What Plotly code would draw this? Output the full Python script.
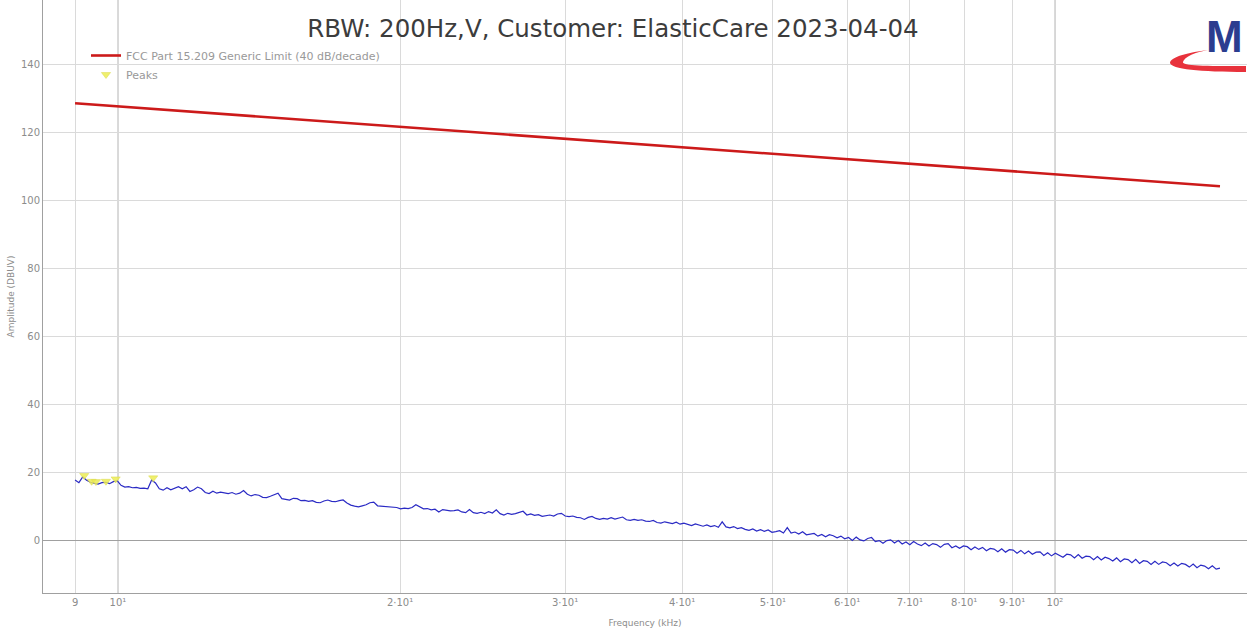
import numpy as np
import plotly.graph_objects as go

# Sweep definition (kHz); the trace is sampled on a logarithmic grid
FREQ_START_KHZ = 9.0
FREQ_STOP_KHZ = 150.0

# Measured amplitude, dBuV, one value per sweep point
amplitude_dbuv = [
    17.9, 17.1, 18.8, 17.8, 17.2, 16.9, 16.7, 17.1, 17.2, 16.8,
    17.4, 17.7, 16.3, 15.8, 15.9, 15.6, 15.7, 15.4, 15.5, 15.3,
    17.9, 17.0, 15.3, 14.9, 15.6, 15.0, 15.4, 15.9, 15.3, 15.9,
    14.5, 15.0, 15.8, 15.3, 14.2, 13.9, 14.6, 14.0, 14.3, 14.1,
    13.9, 14.2, 13.7, 14.0, 14.8, 13.7, 13.2, 13.6, 13.4, 12.8,
    12.7, 13.1, 13.6, 14.0, 12.4, 12.2, 12.0, 12.5, 12.4, 11.8,
    11.9, 11.6, 11.8, 11.3, 11.2, 11.7, 12.0, 11.6, 11.5, 11.8,
    12.0, 11.1, 10.5, 10.2, 10.0, 10.3, 10.6, 11.2, 11.4, 10.3,
    10.2, 10.0, 9.9, 9.7, 9.8, 9.4, 9.6, 9.5, 9.8, 10.6,
    9.9, 9.4, 9.5, 9.1, 9.3, 8.5, 9.2, 9.0, 8.8, 8.9,
    9.1, 8.5, 8.3, 9.2, 8.3, 8.1, 8.4, 8.0, 8.6, 8.2,
    9.1, 8.0, 7.6, 8.1, 7.8, 8.0, 8.3, 8.7, 7.6, 7.9,
    7.5, 7.7, 7.2, 7.4, 7.6, 7.3, 7.9, 8.1, 7.3, 7.1,
    7.3, 6.9, 6.8, 6.3, 6.9, 7.2, 6.6, 6.3, 6.6, 6.4,
    6.8, 6.4, 6.6, 7.0, 6.2, 6.0, 6.3, 6.0, 6.2, 5.8,
    5.7, 6.0, 5.4, 5.2, 5.6, 5.4, 5.1, 5.5, 4.9, 5.2,
    4.8, 4.5, 5.0, 4.6, 4.3, 4.7, 4.2, 4.5, 4.0, 5.6,
    4.1, 3.8, 4.2, 3.6, 3.9, 3.4, 3.1, 3.5, 2.9, 3.3,
    2.8, 3.2, 2.5, 2.7, 3.0, 2.3, 3.9, 2.3, 2.6, 2.0,
    2.7, 1.8, 2.1, 2.2, 1.4, 1.9, 1.2, 1.8, 1.5, 0.9,
    1.4, 0.6, 1.0, 0.1, 1.1, 0.3, 0.0, 0.7, 1.0, -0.2,
    0.1, -0.7, 0.1, 0.3, -0.6, 0.1, -0.9, -0.3, -1.1, -0.2,
    -0.9, -1.4, -0.6, -1.5, -0.8, -1.1, -1.9, -1.0, -0.8, -2.0,
    -1.5, -2.2, -1.5, -1.7, -2.6, -1.8, -2.5, -1.9, -2.9, -2.2,
    -2.4, -3.2, -2.3, -3.3, -2.6, -2.7, -3.6, -2.8, -3.8, -3.0,
    -3.9, -3.3, -3.2, -4.3, -3.5, -4.4, -3.6, -4.2, -4.8, -3.9,
    -4.1, -5.0, -4.0, -5.1, -4.5, -4.6, -5.5, -4.6, -5.6, -4.8,
    -5.2, -5.9, -5.0, -6.1, -5.3, -5.5, -6.4, -5.4, -6.6, -5.8,
    -6.0, -6.9, -6.0, -6.9, -6.2, -6.4, -7.3, -6.5, -7.4, -6.6,
    -6.9, -7.7, -6.8, -7.9, -7.1, -7.4, -8.2, -7.3, -8.3, -8.0,
]

# FCC Part 15.209 limit extrapolated to 3 m (40 dB/decade)
limit_freq_khz = [9.0, 150.0]
limit_dbuv = [128.5, 104.1]

# Detected peaks
peak_freq_khz = [9.205, 9.374, 9.474, 9.709, 9.944, 10.905]
peak_dbuv = [19.2, 17.5, 17.4, 17.5, 18.2, 18.5]

x_tick_vals = [9, 10, 20, 30, 40, 50, 60, 70, 80, 90, 100]
x_tick_text = ["9", "10¹", "2·10¹", "3·10¹", "4·10¹", "5·10¹",
               "6·10¹", "7·10¹", "8·10¹", "9·10¹", "10²"]
decade_lines_khz = [10, 100]
y_tick_vals = [0, 20, 40, 60, 80, 100, 120, 140]

freq_khz = np.geomspace(FREQ_START_KHZ, FREQ_STOP_KHZ, len(amplitude_dbuv))

# Canvas geometry
W, H = 1252, 630
ML, MR, MT, MB = 43, 5, 0, 37
PW, PH = W - ML - MR, H - MT - MB


def to_paper(px, py):
    return f"{(px - ML) / PW:.5f},{(PH + MT - py) / PH:.5f}"


grey_text = "#8c8c8c"

fig = go.Figure()

fig.add_trace(go.Scatter(
    x=freq_khz, y=amplitude_dbuv, mode="lines",
    line=dict(color="#2a2ac4", width=1.2),
    showlegend=False, name="Measurement",
))
fig.add_trace(go.Scatter(
    x=limit_freq_khz, y=limit_dbuv, mode="lines",
    line=dict(color="#cc1a1a", width=2.6),
    name="FCC Part 15.209 Generic Limit (40 dB/decade)",
))
fig.add_trace(go.Scatter(
    x=peak_freq_khz, y=peak_dbuv, mode="markers",
    marker=dict(symbol="triangle-down", size=8,
                color="rgba(236,236,84,0.85)",
                line=dict(color="rgba(214,214,70,0.9)", width=0.5)),
    name="Peaks",
))

# Darker grid lines at the decades
for f in decade_lines_khz:
    fig.add_shape(type="line", xref="x", yref="paper", x0=f, x1=f, y0=0, y1=1,
                  line=dict(color="#a8a8a8", width=1), layer="between")

# Company logo: red swoosh and a bold "M"
swoosh = (
    f"M {to_paper(1208, 50)} "
    f"C {to_paper(1190, 52)} {to_paper(1170, 57)} {to_paper(1170, 63)} "
    f"C {to_paper(1171, 69)} {to_paper(1200, 72)} {to_paper(1246, 72)} "
    f"L {to_paper(1246, 66)} "
    f"C {to_paper(1205, 66)} {to_paper(1182, 66)} {to_paper(1183, 62)} "
    f"C {to_paper(1184, 57)} {to_paper(1196, 52)} {to_paper(1208, 50)} Z"
)
fig.add_shape(type="path", xref="paper", yref="paper", path=swoosh,
              fillcolor="#e8323c", line=dict(width=0), layer="above")
fig.add_annotation(
    text="<b>M</b>", xref="paper", yref="paper",
    x=(1224 - ML) / PW, y=(PH - 36) / PH, xanchor="center", yanchor="middle",
    showarrow=False, font=dict(family="Liberation Sans", size=44, color="#2b3d8f"),
)

fig.update_layout(
    width=W, height=H,
    margin=dict(l=ML, r=MR, t=MT, b=MB),
    paper_bgcolor="white", plot_bgcolor="white",
    title=dict(
        text="RBW: 200Hz,V, Customer: ElasticCare 2023-04-04",
        x=613 / W, xref="container", xanchor="center",
        y=1 - 28 / H, yref="container", yanchor="middle",
        font=dict(family="DejaVu Sans", size=24.5, color="#3c3c3c"),
    ),
    legend=dict(
        x=(86 - ML) / PW, y=(PH - 41) / PH, xanchor="left", yanchor="top",
        bgcolor="rgba(0,0,0,0)", font=dict(family="DejaVu Sans", size=11, color="#999999"),
        tracegroupgap=2,
    ),
    xaxis=dict(
        type="log",
        range=[np.log10(8.318), np.log10(160.3)],
        tickvals=x_tick_vals, ticktext=x_tick_text,
        gridcolor="#dadada", gridwidth=1,
        showline=True, linecolor="#a0a0a0", linewidth=1,
        ticks="", zeroline=False,
        tickfont=dict(family="DejaVu Sans", size=10, color=grey_text),
        title=dict(text="Frequency (kHz)", standoff=12,
                   font=dict(family="DejaVu Sans", size=9, color=grey_text)),
    ),
    yaxis=dict(
        range=[-15.3, 158.8],
        tickvals=y_tick_vals,
        gridcolor="#dadada", gridwidth=1,
        zeroline=True, zerolinecolor="#a0a0a0", zerolinewidth=1,
        showline=True, linecolor="#a0a0a0", linewidth=1,
        ticks="",
        tickfont=dict(family="DejaVu Sans", size=10, color=grey_text),
        title=dict(text="Amplitude (DBUV)", standoff=4,
                   font=dict(family="DejaVu Sans", size=9, color=grey_text)),
    ),
)

fig.write_html("out.html")
